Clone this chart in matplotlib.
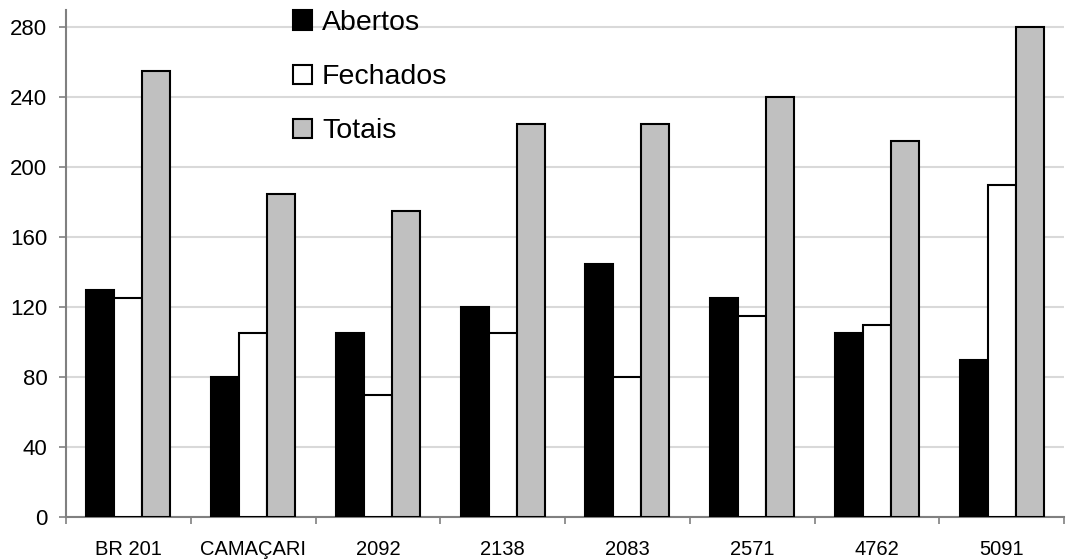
import numpy as np
import matplotlib
matplotlib.use("Agg")
import matplotlib.pyplot as plt
from matplotlib.ticker import FixedLocator

plt.rcParams["font.family"] = ["Liberation Sans", "DejaVu Sans"]

categories = ["BR 201", "CAMAÇARI", "2092", "2138", "2083", "2571", "4762", "5091"]
abertos = [130, 80, 105, 120, 145, 125, 105, 90]
fechados = [125, 105, 70, 105, 80, 115, 110, 190]
totais = [255, 185, 175, 225, 225, 240, 215, 280]
series_names = ["Abertos", "Fechados", "Totais"]
y_ticks = [0, 40, 80, 120, 160, 200, 240, 280]

fig = plt.figure(figsize=(10.74, 5.59), dpi=100)
ax = fig.add_axes([66 / 1074, 1 - 517 / 559, (1064 - 66) / 1074, (517 - 10) / 559])

x = np.arange(len(categories))
w = 0.225
edge = dict(edgecolor="black", linewidth=1.5)
b1 = ax.bar(x - w, abertos, w, color="black", label=series_names[0], zorder=3, **edge)
b2 = ax.bar(x, fechados, w, color="white", label=series_names[1], zorder=3, **edge)
b3 = ax.bar(x + w, totais, w, color="#c0c0c0", label=series_names[2], zorder=3, **edge)

ax.set_xlim(-0.5, len(categories) - 0.5)
ax.set_ylim(0, 290)
ax.set_yticks(y_ticks)
ax.yaxis.grid(True, color="#d9d9d9", linewidth=1.5, zorder=0)
ax.set_axisbelow(True)

ax.set_xticks(x)
ax.set_xticklabels(categories, fontsize=14.5)
ax.xaxis.set_minor_locator(FixedLocator(np.arange(-0.5, len(categories), 1.0)))
ax.tick_params(axis="x", which="major", length=0, pad=16.5)
ax.tick_params(axis="x", which="minor", length=5, width=1.2, color="#808080", direction="out")
ax.tick_params(axis="y", length=5, width=1.2, color="#808080", pad=8.5, labelsize=16)

for side in ("top", "right"):
    ax.spines[side].set_visible(False)
for side in ("left", "bottom"):
    ax.spines[side].set_color("#808080")
    ax.spines[side].set_linewidth(1.5)

leg = ax.legend(
    handles=[b1, b2, b3],
    loc="upper left",
    bbox_to_anchor=(293 / 1074, 1 - 10 / 559),
    bbox_transform=fig.transFigure,
    frameon=False,
    fontsize=20.5,
    handlelength=0.66,
    handleheight=0.66,
    handletextpad=0.36,
    labelspacing=0.99,
    borderpad=0,
    borderaxespad=0,
)

fig.savefig("out.png", dpi=100)
